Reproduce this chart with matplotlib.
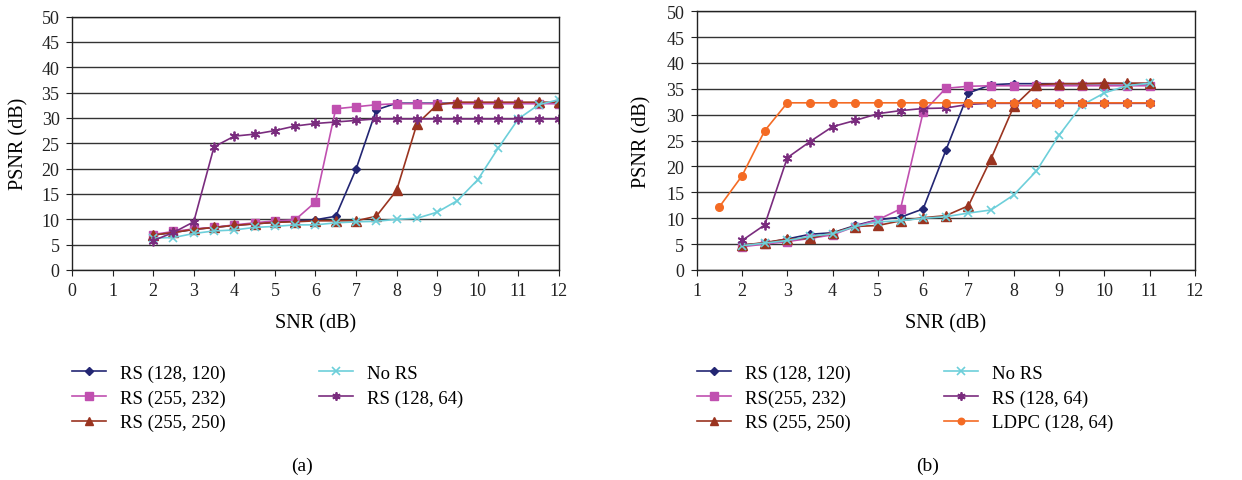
import matplotlib.pyplot as plt

plt.rcParams['font.family'] = ['Liberation Serif', 'DejaVu Serif']

snr_a = [2, 2.5, 3, 3.5, 4, 4.5, 5, 5.5, 6, 6.5, 7, 7.5, 8, 8.5, 9, 9.5, 10, 10.5, 11, 11.5, 12]
rs128_120_a = [6.9, 7.4, 8.0, 8.4, 8.8, 9.1, 9.4, 9.7, 9.9, 10.6, 19.9, 31.6, 32.9, 32.9, 32.9, 32.9, 32.9, 32.9, 32.9, 32.9, 32.9]
rs255_232_a = [7.0, 7.6, 8.1, 8.4, 8.9, 9.3, 9.7, 9.9, 13.4, 31.8, 32.2, 32.6, 32.8, 32.8, 32.8, 32.8, 32.8, 32.8, 32.8, 32.8, 32.8]
rs255_250_a = [6.9, 7.4, 8.0, 8.4, 8.8, 9.1, 9.4, 9.5, 9.7, 9.7, 9.7, 10.6, 15.7, 28.8, 32.6, 33.1, 33.1, 33.1, 33.1, 33.1, 33.1]
no_rs_a = [6.3, 6.4, 7.2, 7.7, 7.9, 8.4, 8.6, 8.9, 8.9, 9.3, 9.5, 9.6, 10.0, 10.2, 11.4, 13.7, 17.8, 24.0, 29.8, 32.6, 33.6]
rs128_64_a = [5.8, 7.4, 9.5, 24.3, 26.4, 26.8, 27.5, 28.4, 28.9, 29.2, 29.5, 29.8, 29.8, 29.8, 29.8, 29.8, 29.8, 29.8, 29.8, 29.8, 29.8]

snr_b = [2, 2.5, 3, 3.5, 4, 4.5, 5, 5.5, 6, 6.5, 7, 7.5, 8, 8.5, 9, 9.5, 10, 10.5, 11]
rs128_120_b = [4.8, 5.2, 6.0, 6.9, 7.2, 8.6, 9.7, 10.2, 11.8, 23.1, 34.2, 35.8, 36.0, 36.0, 36.0, 36.0, 36.0, 36.0, 36.0]
rs255_232_b = [4.5, 5.0, 5.5, 6.1, 6.8, 8.4, 9.7, 11.8, 30.5, 35.1, 35.5, 35.6, 35.6, 35.6, 35.6, 35.6, 35.6, 35.6, 35.6]
rs255_250_b = [4.8, 5.3, 6.0, 6.1, 7.2, 8.4, 8.6, 9.5, 10.1, 10.5, 12.4, 21.5, 31.6, 35.8, 36.0, 36.0, 36.1, 36.1, 36.1]
no_rs_b = [4.7, 5.2, 5.7, 6.5, 7.0, 8.4, 9.3, 9.5, 10.0, 10.3, 11.0, 11.6, 14.5, 19.1, 26.0, 31.8, 34.2, 35.6, 36.1]
rs128_64_b = [5.7, 8.7, 21.7, 24.8, 27.7, 28.9, 30.2, 30.8, 31.2, 31.3, 32.0, 32.2, 32.2, 32.2, 32.2, 32.2, 32.2, 32.2, 32.2]
snr_ldpc = [1.5, 2, 2.5, 3, 3.5, 4, 4.5, 5, 5.5, 6, 6.5, 7, 7.5, 8, 8.5, 9, 9.5, 10, 10.5, 11]
ldpc_b = [12.2, 18.2, 26.9, 32.3, 32.3, 32.3, 32.3, 32.3, 32.3, 32.3, 32.3, 32.3, 32.3, 32.3, 32.3, 32.3, 32.3, 32.3, 32.3, 32.3]

c_blue = '#232673'
c_pink = '#C050B0'
c_red = '#9A3420'
c_cyan = '#6DCFDA'
c_purple = '#7A2C7E'
c_orange = '#F46B24'
star = (6, 2, 0)

fig = plt.figure(figsize=(12.42, 4.81), dpi=100)
ax1 = fig.add_axes([0.058, 0.4366, 0.392, 0.527])
ax2 = fig.add_axes([0.561, 0.4366, 0.401, 0.538])


def style(ax, xmin, xmax, ylab_x, xlab_y):
    ax.set_xlim(xmin, xmax)
    ax.set_ylim(0, 50)
    ax.set_xticks(range(xmin, xmax + 1))
    ax.set_yticks(range(0, 51, 5))
    ax.yaxis.grid(True, color='#333333', linewidth=1)
    ax.set_axisbelow(True)
    for s in ax.spines.values():
        s.set_color('#222222')
        s.set_linewidth(1)
    ax.tick_params(direction='out', length=4, pad=5, labelsize=13, colors='#222222')
    ax.set_xlabel('SNR (dB)', fontsize=14.5)
    ax.set_ylabel('PSNR (dB)', fontsize=14.5)
    ax.yaxis.set_label_coords(ylab_x, 0.5)
    ax.xaxis.set_label_coords(0.5, xlab_y)


lw = 1.2
ax1.plot(snr_a, rs128_120_a, color=c_blue, marker='D', ms=4.5, lw=lw, label='RS (128, 120)')
ax1.plot(snr_a, rs255_232_a, color=c_pink, marker='s', ms=6, lw=lw, label='RS (255, 232)')
ax1.plot(snr_a, rs255_250_a, color=c_red, marker='^', ms=6.5, lw=lw, label='RS (255, 250)')
ax1.plot(snr_a, no_rs_a, color=c_cyan, marker='x', ms=6, mew=1.2, lw=lw, label='No RS')
ax1.plot(snr_a, rs128_64_a, color=c_purple, marker=star, ms=7, mew=1.3, lw=lw, label='RS (128, 64)')
style(ax1, 0, 12, -0.09, -0.17)

ax2.plot(snr_b, rs128_120_b, color=c_blue, marker='D', ms=4.5, lw=lw, label='RS (128, 120)')
ax2.plot(snr_b, rs255_232_b, color=c_pink, marker='s', ms=6, lw=lw, label='RS(255, 232)')
ax2.plot(snr_b, rs255_250_b, color=c_red, marker='^', ms=6.5, lw=lw, label='RS (255, 250)')
ax2.plot(snr_b, no_rs_b, color=c_cyan, marker='x', ms=6, mew=1.2, lw=lw, label='No RS')
ax2.plot(snr_b, rs128_64_b, color=c_purple, marker=star, ms=7, mew=1.3, lw=lw, label='RS (128, 64)')
ax2.plot(snr_ldpc, ldpc_b, color=c_orange, marker='o', ms=5.5, lw=lw, label='LDPC (128, 64)')
style(ax2, 1, 12, -0.09, -0.166)

leg_kw = dict(ncol=2, frameon=False, fontsize=13.5, handlelength=1.8, handletextpad=0.75,
              columnspacing=5.0, labelspacing=0.4, borderpad=0, borderaxespad=0, markerscale=0.85)
h, l = ax1.get_legend_handles_labels()
fig.legend(h, l, loc='upper left', bbox_to_anchor=(0.058, 0.24), **leg_kw)
h, l = ax2.get_legend_handles_labels()
fig.legend(h, l, loc='upper left', bbox_to_anchor=(0.561, 0.24), **leg_kw)

fig.text(0.243, 0.031, '(a)', ha='center', va='center', fontsize=14)
fig.text(0.747, 0.031, '(b)', ha='center', va='center', fontsize=14)

fig.savefig('out.png', dpi=100)
